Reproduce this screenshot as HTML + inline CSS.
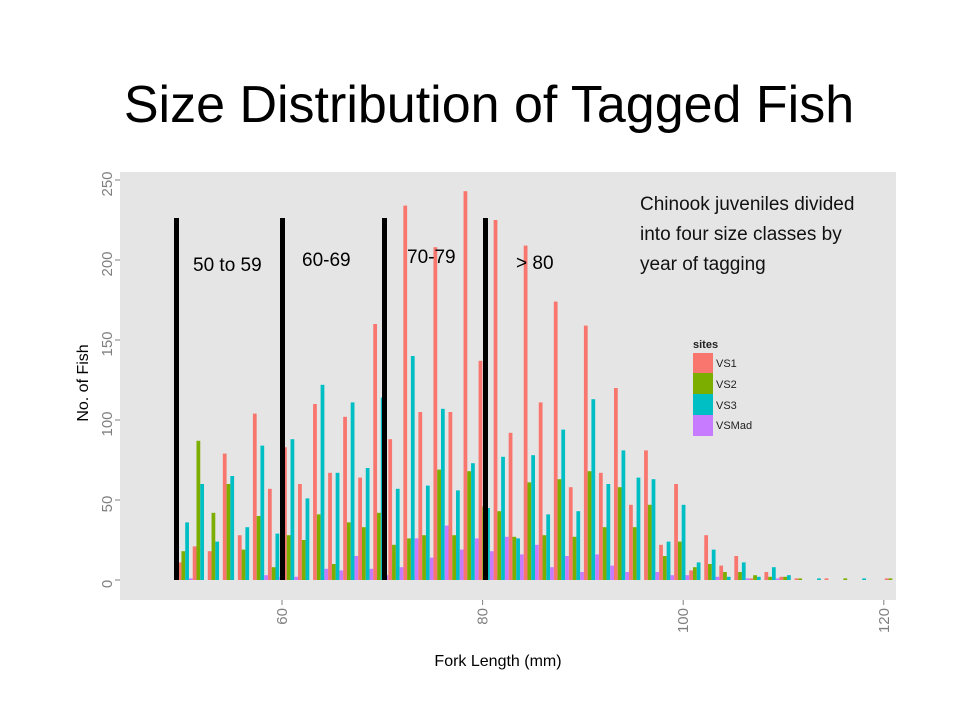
<!DOCTYPE html>
<html><head><meta charset="utf-8"><style>
body{margin:0;background:#fff;width:960px;height:720px;overflow:hidden;font-family:"Liberation Sans",sans-serif}
</style></head><body>
<svg width="960" height="720" xmlns="http://www.w3.org/2000/svg">
<text x="489" y="122" text-anchor="middle" font-size="52" fill="#000">Size Distribution of Tagged Fish</text>
<rect x="120" y="172" width="776" height="428" fill="#e5e5e5"/>
<g id="bars"></g>
<g id="axes"></g>
<g fill="#000">
<rect x="174" y="218" width="5" height="362"/>
<rect x="280" y="218" width="5" height="362"/>
<rect x="382" y="218" width="5" height="362"/>
<rect x="483" y="218" width="5" height="362"/>
</g>
<g font-size="19" fill="#000">
<text x="193" y="271">50 to 59</text>
<text x="302" y="266">60-69</text>
<text x="407" y="263">70-79</text>
<text x="516" y="269">&gt; 80</text>
</g>
<g font-size="19" fill="#111">
<text x="640" y="210">Chinook juveniles divided</text>
<text x="640" y="240">into four size classes by</text>
<text x="640" y="270">year of tagging</text>
</g>
<g font-size="11" fill="#222">
<text x="693" y="348" font-weight="bold">sites</text>
<rect x="693" y="353" width="20" height="20" fill="#F8766D"/>
<text x="716" y="367">VS1</text>
<rect x="693" y="373" width="20" height="21" fill="#7CAE00"/>
<text x="716" y="388">VS2</text>
<rect x="693" y="394" width="20" height="21" fill="#00BFC4"/>
<text x="716" y="409">VS3</text>
<rect x="693" y="415" width="20" height="21" fill="#C77CFF"/>
<text x="716" y="429">VSMad</text>
</g>
<text transform="translate(88,383) rotate(-90)" text-anchor="middle" font-size="16" fill="#000">No. of Fish</text>
<text x="498" y="666" text-anchor="middle" font-size="16" fill="#000">Fork Length (mm)</text>
</svg>
<script>
const binCenters=[50.35,51.85,53.35,54.85,56.35,57.85,59.35,60.85,62.35,63.85,65.35,66.85,68.35,69.85,71.35,72.85,74.35,75.85,77.35,78.85,80.35,81.85,83.35,84.85,86.35,87.85,89.35,90.85,92.35,93.85,95.35,96.85,98.35,99.85,101.35,102.85,104.35,105.85,107.35,108.85,110.35,111.85,113.35,114.85,116.35,117.85,119.35,120.85];
const vs1=[11,21,18,79,28,104,57,83,60,110,67,102,64,160,88,234,105,208,105,243,137,225,92,209,111,174,58,159,67,120,47,81,22,60,6,28,9,15,1,5,2,1,0,1,0,0,0,1];
const vs2=[18,87,42,60,19,40,8,28,25,41,10,36,33,42,22,26,28,69,28,68,46,43,27,61,28,63,27,68,33,58,33,47,15,24,8,10,5,5,3,2,2,1,0,0,1,0,0,1];
const vs3=[36,60,24,65,33,84,29,88,51,122,67,111,70,114,57,140,59,107,56,73,45,77,26,78,41,94,43,113,60,81,64,63,24,47,11,19,2,11,2,8,3,0,1,0,0,1,0,0];
const vsMad=[1,0,0,0,0,3,2,2,0,7,6,15,7,3,8,26,14,34,19,26,18,27,16,22,8,15,5,16,9,5,0,5,3,3,0,2,0,1,0,1,0,0,0,0,0,0,0,0];
const yTicks=[0,50,100,150,200,250];
const xTicks=[60,80,100,120];
const binWidth=1.5;
const xs=v=>282+(v-60)*10.03;
const ys=v=>580-v*1.6;
const NS="http://www.w3.org/2000/svg";
const series=[["vs1",vs1,"#F8766D"],["vs2",vs2,"#7CAE00"],["vs3",vs3,"#00BFC4"],["vsmad",vsMad,"#C77CFF"]];
const g=document.getElementById('bars');
binCenters.forEach((c,i)=>{
  const left=xs(c-binWidth/2), w=(xs(c+binWidth/2)-left)/4;
  series.forEach((s,j)=>{
    const v=s[1][i]; if(!v) return;
    const r=document.createElementNS(NS,'rect');
    r.setAttribute('x',left+j*w);r.setAttribute('width',w);
    r.setAttribute('y',ys(v));r.setAttribute('height',ys(0)-ys(v));
    r.setAttribute('fill',s[2]);
    
    
    g.appendChild(r);
  });
});
const ax=document.getElementById('axes');
yTicks.forEach(t=>{
  const y=ys(t);
  const l=document.createElementNS(NS,'line');
  l.setAttribute('x1',115);l.setAttribute('x2',120);l.setAttribute('y1',y);l.setAttribute('y2',y);
  l.setAttribute('stroke','#7f7f7f');
  
  
  ax.appendChild(l);
  const tx=document.createElementNS(NS,'text');
  tx.setAttribute('transform','translate(112,'+(y+4)+') rotate(-90)');
  tx.setAttribute('text-anchor','middle');tx.setAttribute('font-size','15');tx.setAttribute('fill','#7f7f7f');
  tx.textContent=t;
  
  
  ax.appendChild(tx);
});
xTicks.forEach(t=>{
  const x=xs(t);
  const l=document.createElementNS(NS,'line');
  l.setAttribute('x1',x);l.setAttribute('x2',x);l.setAttribute('y1',600);l.setAttribute('y2',605);
  l.setAttribute('stroke','#7f7f7f');
  
  
  ax.appendChild(l);
  const tx=document.createElementNS(NS,'text');
  tx.setAttribute('transform','translate('+(x+5)+',608) rotate(-90)');
  tx.setAttribute('text-anchor','end');tx.setAttribute('font-size','15');tx.setAttribute('fill','#7f7f7f');
  tx.textContent=t;
  
  
  ax.appendChild(tx);
});
</script>
</body></html>
